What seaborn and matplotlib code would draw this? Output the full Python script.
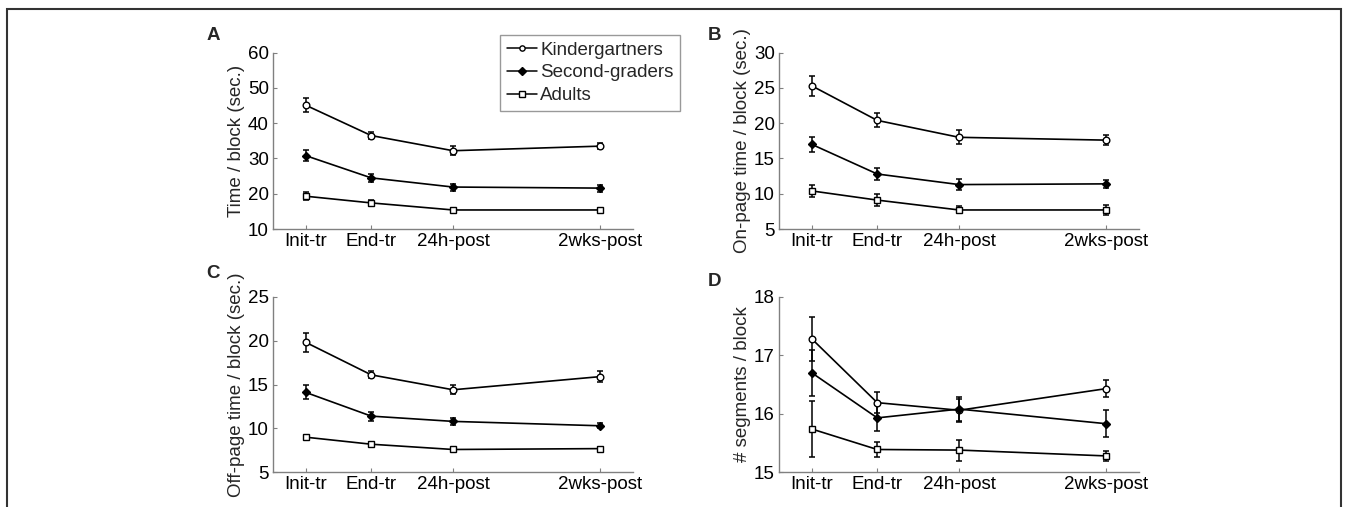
import numpy as np
import pandas as pd
import seaborn as sns
import matplotlib.pyplot as plt
from matplotlib.lines import Line2D
from matplotlib.patches import Rectangle

sessions = ["Init-tr", "End-tr", "24h-post", "2wks-post"]
session_pos = [1, 3, 5.5, 10]
groups = ["Kindergartners", "Second-graders", "Adults"]

# panel A: time / block
time_mean = {"Kindergartners": [45.1, 36.5, 32.2, 33.5],
             "Second-graders": [30.8, 24.5, 21.9, 21.6],
             "Adults": [19.3, 17.4, 15.4, 15.4]}
time_err = {"Kindergartners": [2.0, 1.1, 1.2, 0.8],
            "Second-graders": [1.6, 1.2, 1.0, 1.0],
            "Adults": [1.2, 0.8, 0.5, 0.5]}

# panel B: on-page time
on_mean = {"Kindergartners": [25.3, 20.4, 18.0, 17.6],
           "Second-graders": [17.0, 12.8, 11.3, 11.4],
           "Adults": [10.4, 9.1, 7.7, 7.7]}
on_err = {"Kindergartners": [1.4, 1.0, 1.0, 0.7],
          "Second-graders": [1.1, 0.9, 0.8, 0.6],
          "Adults": [0.9, 0.8, 0.5, 0.7]}

# panel C: off-page time
off_mean = {"Kindergartners": [19.8, 16.1, 14.4, 15.9],
            "Second-graders": [14.1, 11.4, 10.8, 10.3],
            "Adults": [9.0, 8.2, 7.6, 7.7]}
off_err = {"Kindergartners": [1.1, 0.4, 0.5, 0.6],
           "Second-graders": [0.8, 0.5, 0.4, 0.3],
           "Adults": [0.3, 0.3, 0.2, 0.2]}

# panel D: segments / block
seg_mean = {"Kindergartners": [17.28, 16.19, 16.06, 16.43],
            "Second-graders": [16.70, 15.93, 16.08, 15.83],
            "Adults": [15.74, 15.39, 15.38, 15.28]}
seg_err = {"Kindergartners": [0.37, 0.18, 0.2, 0.14],
           "Second-graders": [0.39, 0.22, 0.2, 0.23],
           "Adults": [0.48, 0.12, 0.18, 0.08]}

markers = {"Kindergartners": "o", "Second-graders": "D", "Adults": "s"}
faces = {"Kindergartners": "white", "Second-graders": "black", "Adults": "white"}
msizes = {"Kindergartners": 4.8, "Second-graders": 4.0, "Adults": 4.6}

sns.set_theme(style="white")
plt.rcParams['font.family'] = ['Liberation Sans', 'DejaVu Sans']
FS = 13.5

fig = plt.figure(figsize=(13.49, 5.07), dpi=100)
w, h = 0.2669, 0.3478
panels = [
    ("A", [0.2024, 0.5483, w, h], time_mean, time_err, "Time / block (sec.)", (10, 60), [10, 20, 30, 40, 50, 60], (213, 36)),
    ("B", [0.5775, 0.5483, w, h], on_mean, on_err, "On-page time / block (sec.)", (5, 30), [5, 10, 15, 20, 25, 30], (715, 36)),
    ("C", [0.2024, 0.0684, w, 0.3464], off_mean, off_err, "Off-page time / block (sec.)", (5, 25), [5, 10, 15, 20, 25], (213, 273)),
    ("D", [0.5775, 0.0684, w, 0.3464], seg_mean, seg_err, "# segments / block", (15, 18), [15, 16, 17, 18], (715, 282)),
]

for label, rect, means, errs, ylabel, ylim, yticks, lpos in panels:
    ax = fig.add_axes(rect)
    rows = []
    for g in groups:
        for s, p, m in zip(sessions, session_pos, means[g]):
            rows.append({"group": g, "session": s, "x": p, "y": m})
    df = pd.DataFrame(rows)
    for g in groups:
        sub = df[df["group"] == g]
        ax.errorbar(sub["x"], sub["y"], yerr=errs[g], fmt="none", ecolor="black",
                    elinewidth=1.1, capsize=2.5, capthick=1.1, zorder=2)
        sns.lineplot(data=sub, x="x", y="y", ax=ax, color="black", linewidth=1.2,
                     marker=markers[g], markersize=msizes[g], markerfacecolor=faces[g],
                     markeredgecolor="black", markeredgewidth=1.0, zorder=3)
    ax.set_xlim(0, 11)
    ax.set_ylim(*ylim)
    ax.set_xticks(session_pos)
    ax.set_xticklabels(sessions, fontsize=FS)
    ax.set_yticks(yticks)
    ax.set_yticklabels([str(t) for t in yticks], fontsize=FS)
    ax.set_xlabel("")
    ax.set_ylabel(ylabel, fontsize=FS, labelpad=2)
    sns.despine(ax=ax)
    for sp in ["left", "bottom"]:
        ax.spines[sp].set_color("#808080")
        ax.spines[sp].set_linewidth(1.0)
    ax.tick_params(direction="in", length=3, width=0.8, color="#808080",
                   labelcolor="black", pad=3, left=True, bottom=True)
    fig.text(lpos[0] / 1349, 1 - lpos[1] / 507, label, fontsize=FS, fontweight="bold",
             ha="center", va="center")

handles = [Line2D([], [], color="black", linewidth=1.1, marker=markers[g],
                  markersize=3.8, markerfacecolor=faces[g], markeredgecolor="black")
           for g in groups]
leg = fig.legend(handles, groups, loc="upper left", bbox_to_anchor=(500 / 1349, 1 - 35 / 507),
                 fontsize=FS, frameon=True, fancybox=False, handlelength=1.6,
                 handletextpad=0.2, borderpad=0.35, labelspacing=0.3, borderaxespad=0)
leg.get_frame().set_edgecolor("#808080")
leg.get_frame().set_linewidth(1.0)

fig.patches.append(Rectangle((7 / 1349, -0.1), (1341 - 7) / 1349, 1.1 - 9 / 507,
                             transform=fig.transFigure, fill=False,
                             edgecolor="#333333", linewidth=1.5))

fig.savefig("out.png", dpi=100)
